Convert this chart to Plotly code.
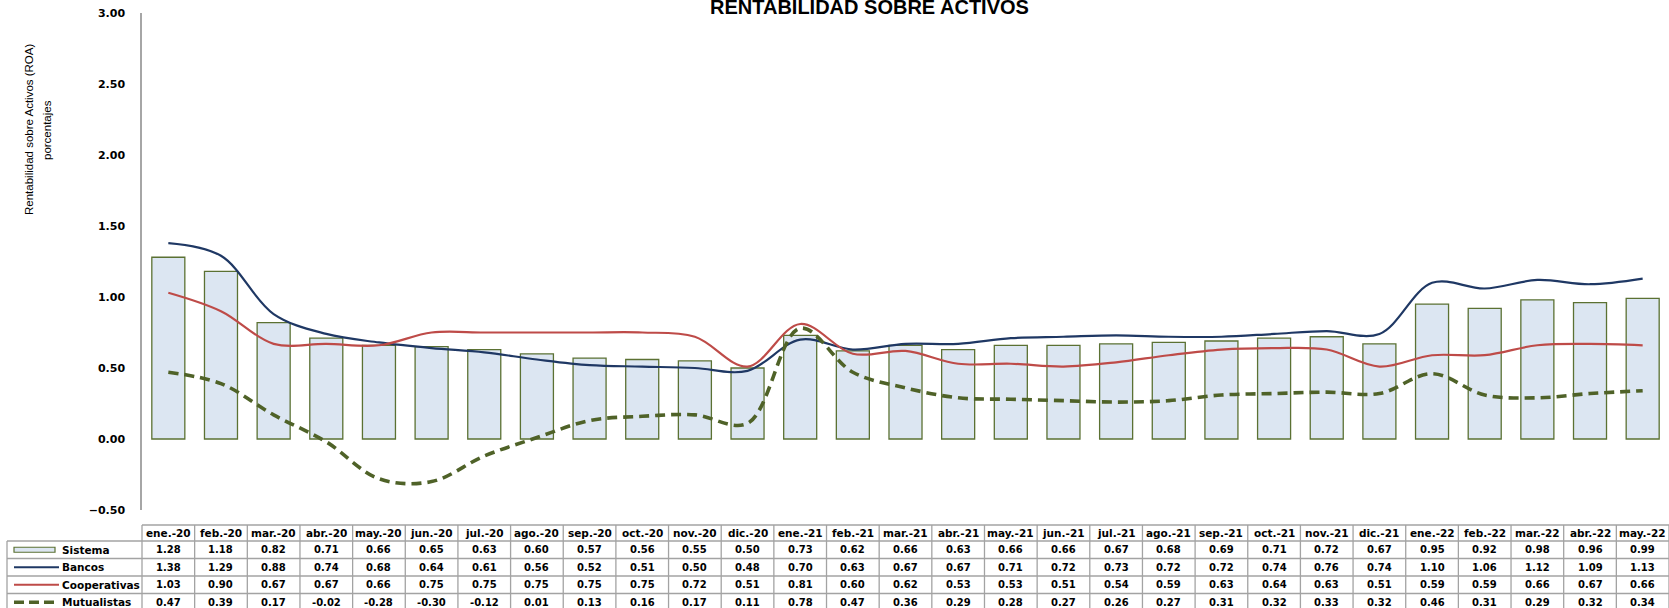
import plotly.graph_objects as go

# Monthly return on assets (ROA), in percent
meses = ["ene.-20", "feb.-20", "mar.-20", "abr.-20", "may.-20", "jun.-20", "jul.-20",
         "ago.-20", "sep.-20", "oct.-20", "nov.-20", "dic.-20", "ene.-21", "feb.-21",
         "mar.-21", "abr.-21", "may.-21", "jun.-21", "jul.-21", "ago.-21", "sep.-21",
         "oct.-21", "nov.-21", "dic.-21", "ene.-22", "feb.-22", "mar.-22", "abr.-22",
         "may.-22"]
sistema = [1.28, 1.18, 0.82, 0.71, 0.66, 0.65, 0.63, 0.60, 0.57, 0.56, 0.55, 0.50,
           0.73, 0.62, 0.66, 0.63, 0.66, 0.66, 0.67, 0.68, 0.69, 0.71, 0.72, 0.67,
           0.95, 0.92, 0.98, 0.96, 0.99]
bancos = [1.38, 1.29, 0.88, 0.74, 0.68, 0.64, 0.61, 0.56, 0.52, 0.51, 0.50, 0.48,
          0.70, 0.63, 0.67, 0.67, 0.71, 0.72, 0.73, 0.72, 0.72, 0.74, 0.76, 0.74,
          1.10, 1.06, 1.12, 1.09, 1.13]
cooperativas = [1.03, 0.90, 0.67, 0.67, 0.66, 0.75, 0.75, 0.75, 0.75, 0.75, 0.72, 0.51,
                0.81, 0.60, 0.62, 0.53, 0.53, 0.51, 0.54, 0.59, 0.63, 0.64, 0.63, 0.51,
                0.59, 0.59, 0.66, 0.67, 0.66]
mutualistas = [0.47, 0.39, 0.17, -0.02, -0.28, -0.30, -0.12, 0.01, 0.13, 0.16, 0.17, 0.11,
               0.78, 0.47, 0.36, 0.29, 0.28, 0.27, 0.26, 0.27, 0.31, 0.32, 0.33, 0.32,
               0.46, 0.31, 0.29, 0.32, 0.34]
series_nombres = ["Sistema", "Bancos", "Cooperativas", "Mutualistas"]

W, H = 1669, 608
ML, MT, MB = 142, 13, 98
PW = W - ML
PH = H - MT - MB

C_BAR = "#DCE6F2"
C_BAR_LINE = "#5B7133"
C_BANCOS = "#1F3864"
C_COOP = "#BE4B48"
C_MUT = "#4F6228"
C_GRID = "#A3A3A3"

TXT = "DejaVu Sans, Verdana, sans-serif"


def xp(px):
    return (px - ML) / PW


def yp(py):
    return (H - MB - py) / PH


fig = go.Figure()
fig.add_bar(x=meses, y=sistema, name="Sistema",
            marker=dict(color=C_BAR, line=dict(color=C_BAR_LINE, width=1.3)))
fig.add_scatter(x=meses, y=bancos, name="Bancos", mode="lines",
                line=dict(color=C_BANCOS, width=2.2, shape="spline"))
fig.add_scatter(x=meses, y=cooperativas, name="Cooperativas", mode="lines",
                line=dict(color=C_COOP, width=2.2, shape="spline"))
fig.add_scatter(x=meses, y=mutualistas, name="Mutualistas", mode="lines",
                line=dict(color=C_MUT, width=3.6, shape="spline", dash="10px,6px"))

annotations = []
shapes = []

# Title (partly above the top edge)
annotations.append(dict(text="RENTABILIDAD SOBRE ACTIVOS", xref="paper", yref="paper",
                        x=xp(869), y=yp(7), xanchor="center", yanchor="middle",
                        showarrow=False,
                        font=dict(family="Liberation Sans, Arial, sans-serif", size=20,
                                  color="#000", weight="bold")))

# Vertical axis title (two rotated lines)
for txt, px in [("Rentabilidad sobre Activos (ROA)", 29), ("porcentajes", 47)]:
    annotations.append(dict(text=txt, xref="paper", yref="paper", x=xp(px), y=yp(130),
                            xanchor="center", yanchor="middle", textangle=-90,
                            showarrow=False,
                            font=dict(family="Liberation Sans Narrow, Arial Narrow, sans-serif",
                                      size=11.5, color="#000")))

# Data table under the chart
HEAD_TOP, HEAD_BOT, ROW_H = 525, 541, 17.5
n = len(meses)
col_w = PW / n
row_vals = [sistema, bancos, cooperativas, mutualistas]

for m in meses:
    annotations.append(dict(text=m, xref="x", yref="paper", x=m,
                            y=yp((HEAD_TOP + HEAD_BOT) / 2), xanchor="center",
                            yanchor="middle", showarrow=False,
                            font=dict(family=TXT, size=10.5, color="#000", weight="bold")))

for r, (nombre, vals) in enumerate(zip(series_nombres, row_vals)):
    cy = HEAD_BOT + ROW_H * (r + 0.5)
    annotations.append(dict(text=nombre, xref="paper", yref="paper", x=xp(60), y=yp(cy),
                            xanchor="left", yanchor="middle", showarrow=False,
                            font=dict(family=TXT, size=10.5, color="#000", weight="bold")))
    for m, v in zip(meses, vals):
        annotations.append(dict(text=f"{v:.2f}", xref="x", yref="paper", x=m, y=yp(cy),
                                xanchor="center", yanchor="middle", showarrow=False,
                                font=dict(family=TXT, size=10, color="#000", weight="bold")))

# Table grid
line_style = dict(color=C_GRID, width=1.3)
shapes.append(dict(type="line", xref="paper", yref="paper", x0=xp(ML), x1=xp(W + 2),
                   y0=yp(HEAD_TOP), y1=yp(HEAD_TOP), line=line_style))
for r in range(len(series_nombres) + 1):
    yy = HEAD_BOT + ROW_H * r
    shapes.append(dict(type="line", xref="paper", yref="paper", x0=xp(7), x1=xp(W + 2),
                       y0=yp(yy), y1=yp(yy), line=line_style))
shapes.append(dict(type="line", xref="paper", yref="paper", x0=xp(7), x1=xp(7),
                   y0=yp(HEAD_BOT), y1=yp(H + 5), line=line_style))
for i in range(n + 1):
    xx = i / n
    shapes.append(dict(type="line", xref="paper", yref="paper", x0=xx, x1=xx,
                       y0=yp(HEAD_TOP), y1=yp(H + 5), line=line_style))

# Legend keys inside the table's label column
k0, k1 = 14, 57
cy = HEAD_BOT + ROW_H * 0.5
shapes.append(dict(type="rect", xref="paper", yref="paper", x0=xp(k0), x1=xp(k1 - 2),
                   y0=yp(cy + 2.5), y1=yp(cy - 2.5), fillcolor=C_BAR,
                   line=dict(color=C_BAR_LINE, width=1.2)))
for r, (col, wd, dash) in enumerate([(C_BANCOS, 2, "solid"), (C_COOP, 2, "solid"),
                                     (C_MUT, 3.6, "10px,5px")], start=1):
    cy = HEAD_BOT + ROW_H * (r + 0.5)
    shapes.append(dict(type="line", xref="paper", yref="paper", x0=xp(k0), x1=xp(k1 + 2),
                       y0=yp(cy), y1=yp(cy), line=dict(color=col, width=wd, dash=dash)))

fig.update_layout(
    width=W, height=H,
    margin=dict(l=ML, r=0, t=MT, b=MB, pad=0),
    paper_bgcolor="white", plot_bgcolor="white",
    showlegend=False,
    bargap=0.373,
    xaxis=dict(type="category", range=[-0.5, n - 0.5], showticklabels=False,
               showline=False, showgrid=False, zeroline=False, ticks=""),
    yaxis=dict(range=[-0.5, 3.0], dtick=0.5, tick0=0, tickformat=".2f",
               showgrid=False, zeroline=False, showline=True, linecolor="#A6A6A6",
               linewidth=1.5, ticks="", ticklabelstandoff=13,
               tickfont=dict(family=TXT, size=11, color="#000", weight="bold")),
    annotations=annotations,
    shapes=shapes,
)

fig.write_html("out.html")
